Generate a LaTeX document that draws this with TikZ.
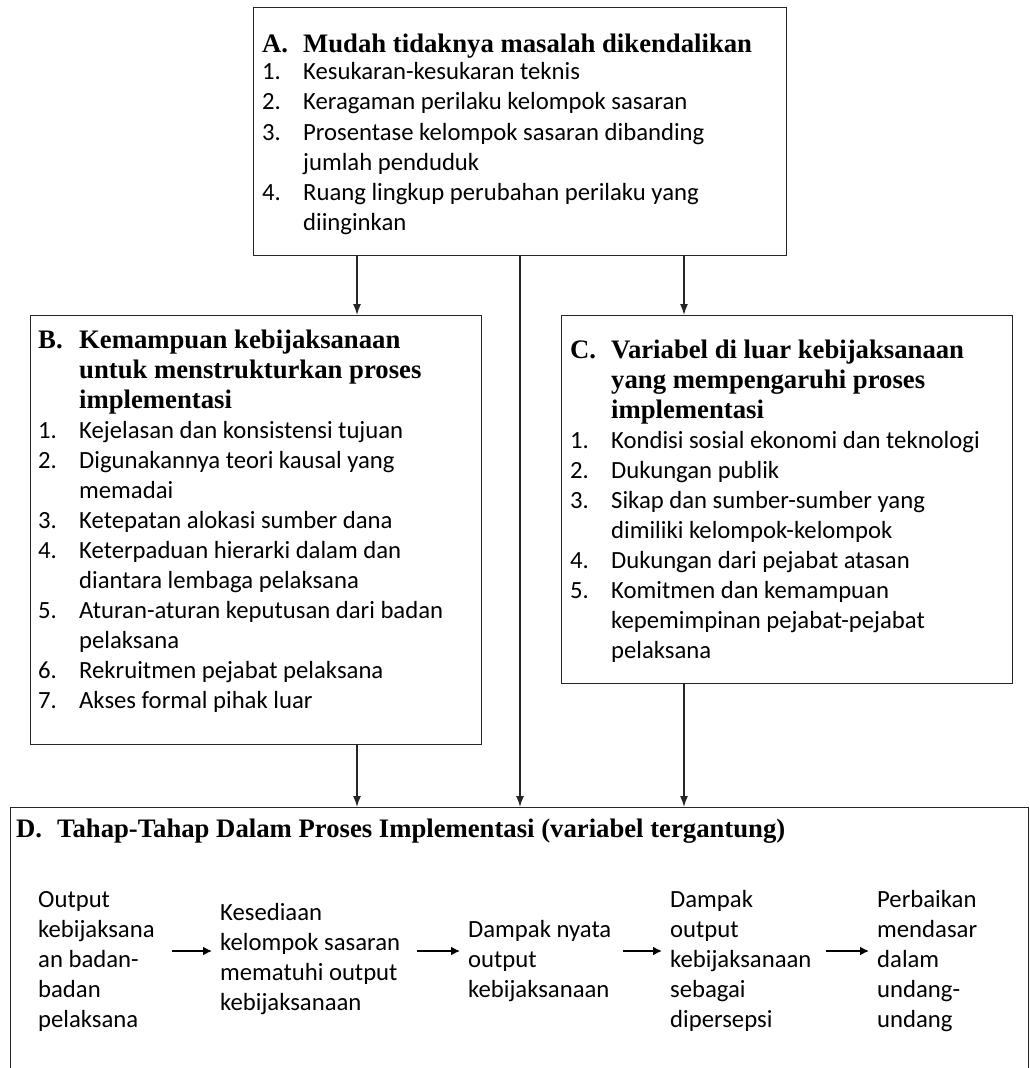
\documentclass[tikz,border=0pt]{standalone}
\usepackage{fontspec}
\setmainfont{Carlito}
\newfontfamily\hdfont{Liberation Serif}
\usetikzlibrary{arrows.meta}
\newcommand\bodyfont{\normalfont\fontsize{24.7}{30}\selectfont}
\newcommand\headfont{\hdfont\bfseries\fontsize{26.7}{30}\selectfont}
\newcommand\li[2]{\makebox[41pt][l]{#1}#2}
\newcommand\lc[1]{\hspace*{41pt}#1}
\tikzset{
  box/.style={draw=black!85, line width=1.4pt, inner sep=0pt, anchor=north west},
  txt/.style={inner sep=0pt, anchor=base west, text=black},
  arr/.style={draw=black!85, line width=1.4pt, -{Latex[length=11pt,width=8pt]}},
  sarr/.style={draw=black, line width=1.7pt, -{Latex[length=9pt,width=9pt]}, shorten >=8pt}
}
\begin{document}
\begin{tikzpicture}[x=1pt,y=-1pt]
\useasboundingbox (0,0) rectangle (1030,1068);
% boxes
\node[box, minimum width=533pt, minimum height=248pt] (A) at (253,7) {};
\node[box, minimum width=451pt, minimum height=429pt] (B) at (30,315) {};
\node[box, minimum width=451pt, minimum height=368pt] (C) at (561,315) {};
\node[box, minimum width=1018pt, minimum height=290pt] (D) at (10,807) {};
% box texts
\node[txt] (At) at (262,52) {\parbox[t]{500pt}{\headfont\li{A.}{Mudah tidaknya masalah dikendalikan}\\[-2pt]
\bodyfont\li{1.}{Kesukaran-kesukaran teknis}\\
\li{2.}{Keragaman perilaku kelompok sasaran}\\
\li{3.}{Prosentase kelompok sasaran dibanding}\\
\lc{jumlah penduduk}\\
\li{4.}{Ruang lingkup perubahan perilaku yang}\\
\lc{diinginkan}}};
\node[txt] (Bt) at (38,348) {\parbox[t]{440pt}{\headfont\li{B.}{Kemampuan kebijaksanaan}\\
\lc{untuk menstrukturkan proses}\\
\lc{implementasi}\\
\bodyfont\li{1.}{Kejelasan dan konsistensi tujuan}\\
\li{2.}{Digunakannya teori kausal yang}\\
\lc{memadai}\\
\li{3.}{Ketepatan alokasi sumber dana}\\
\li{4.}{Keterpaduan hierarki dalam dan}\\
\lc{diantara lembaga pelaksana}\\
\li{5.}{Aturan-aturan keputusan dari badan}\\
\lc{pelaksana}\\
\li{6.}{Rekruitmen pejabat pelaksana}\\
\li{7.}{Akses formal pihak luar}}};
\node[txt] (Ct) at (570,358) {\parbox[t]{440pt}{\headfont\li{C.}{Variabel di luar kebijaksanaan}\\
\lc{yang mempengaruhi proses}\\
\lc{implementasi}\\
\bodyfont\li{1.}{Kondisi sosial ekonomi dan teknologi}\\
\li{2.}{Dukungan publik}\\
\li{3.}{Sikap dan sumber-sumber yang}\\
\lc{dimiliki kelompok-kelompok}\\
\li{4.}{Dukungan dari pejabat atasan}\\
\li{5.}{Komitmen dan kemampuan}\\
\lc{kepemimpinan pejabat-pejabat}\\
\lc{pelaksana}}};
\node[txt] (Dt) at (16,837) {\headfont\li{D.}{Tahap-Tahap Dalam Proses Implementasi (variabel tergantung)}};
% stages
\node[txt] (s1) at (38,907) {\parbox[t]{134pt}{\bodyfont Output\\kebijaksana\\an badan-\\badan\\pelaksana}};
\node[txt] (s2) at (220,920) {\parbox[t]{197pt}{\bodyfont Kesediaan\\kelompok sasaran\\mematuhi output\\kebijaksanaan}};
\node[txt] (s3) at (468,937) {\parbox[t]{155pt}{\bodyfont Dampak nyata\\output\\kebijaksanaan}};
\node[txt] (s4) at (670,907) {\parbox[t]{156pt}{\bodyfont Dampak\\output\\kebijaksanaan\\sebagai\\dipersepsi}};
\node[txt] (s5) at (877,907) {\parbox[t]{140pt}{\bodyfont Perbaikan\\mendasar\\dalam\\undang-\\undang}};
% connectors
\coordinate (xab) at (357,0);
\coordinate (xad) at (520,0);
\coordinate (xac) at (684,0);
\coordinate (ay) at (0,951);
\draw[arr] (A.south -| xab) -- (B.north -| xab);
\draw[arr] (A.south -| xac) -- (C.north -| xac);
\draw[arr] (A.south -| xad) -- (D.north -| xad);
\draw[arr] (B.south -| xab) -- (D.north -| xab);
\draw[arr] (C.south -| xac) -- (D.north -| xac);
\draw[sarr] (s1.east |- ay) -- (s2.west |- ay);
\draw[sarr] (s2.east |- ay) -- (s3.west |- ay);
\draw[sarr] (s3.east |- ay) -- (s4.west |- ay);
\draw[sarr] (s4.east |- ay) -- (s5.west |- ay);
\end{tikzpicture}
\end{document}
